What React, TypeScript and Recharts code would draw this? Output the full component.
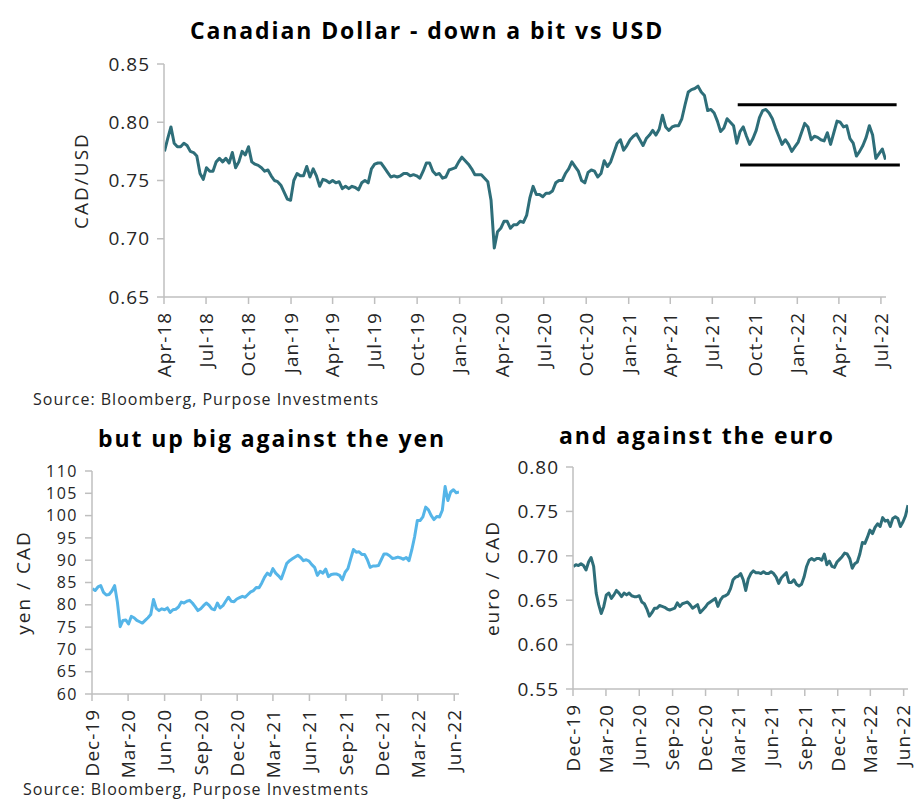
import { LineChart, Line, XAxis, YAxis, ReferenceLine } from 'recharts'

const FONT = "'Open Sans', sans-serif"
const TEAL = '#2e6e79'
const SKY = '#55b5e8'
const AXIS = '#bfbfbf'
const INK = '#262626'
const DAY = 864e5
const MONTHS = ['Jan', 'Feb', 'Mar', 'Apr', 'May', 'Jun', 'Jul', 'Aug', 'Sep', 'Oct', 'Nov', 'Dec']

// CAD/USD, weekly closes starting 2 Apr 2018
const cadStart = '2018-04-02'
const cadUsd = [
  0.775, 0.786, 0.796, 0.782, 0.779, 0.779, 0.782, 0.780, 0.775, 0.774,
  0.771, 0.756, 0.751, 0.761, 0.758, 0.758, 0.766, 0.769, 0.766, 0.769,
  0.765, 0.774, 0.761, 0.766, 0.775, 0.772, 0.779, 0.766, 0.764, 0.763,
  0.761, 0.758, 0.759, 0.754, 0.750, 0.749, 0.746, 0.740, 0.734, 0.733,
  0.750, 0.756, 0.754, 0.754, 0.762, 0.753, 0.760, 0.754, 0.745, 0.751,
  0.750, 0.748, 0.750, 0.748, 0.749, 0.743, 0.745, 0.743, 0.745, 0.744,
  0.742, 0.748, 0.750, 0.748, 0.760, 0.764, 0.765, 0.765, 0.761, 0.757,
  0.753, 0.754, 0.753, 0.754, 0.756, 0.756, 0.754, 0.755, 0.754, 0.752,
  0.758, 0.765, 0.765, 0.758, 0.755, 0.756, 0.752, 0.753, 0.759, 0.760,
  0.761, 0.766, 0.770, 0.767, 0.764, 0.760, 0.755, 0.755, 0.755, 0.752,
  0.749, 0.733, 0.692, 0.706, 0.709, 0.715, 0.715, 0.709, 0.712, 0.712,
  0.715, 0.714, 0.720, 0.735, 0.745, 0.738, 0.738, 0.736, 0.739, 0.739,
  0.741, 0.748, 0.750, 0.750, 0.756, 0.760, 0.766, 0.762, 0.758, 0.750,
  0.748, 0.757, 0.759, 0.758, 0.753, 0.756, 0.767, 0.762, 0.766, 0.774,
  0.782, 0.785, 0.776, 0.780, 0.785, 0.788, 0.790, 0.785, 0.780, 0.786,
  0.789, 0.793, 0.789, 0.794, 0.806, 0.796, 0.793, 0.796, 0.797, 0.797,
  0.803, 0.815, 0.826, 0.828, 0.829, 0.831, 0.826, 0.823, 0.810, 0.811,
  0.808, 0.801, 0.792, 0.795, 0.803, 0.800, 0.797, 0.782, 0.792, 0.796,
  0.788, 0.781, 0.786, 0.793, 0.804, 0.810, 0.811, 0.808, 0.803, 0.795,
  0.788, 0.781, 0.785, 0.781, 0.775, 0.779, 0.783, 0.791, 0.799, 0.796,
  0.785, 0.788, 0.787, 0.785, 0.784, 0.791, 0.781, 0.791, 0.801, 0.800,
  0.796, 0.797, 0.786, 0.782, 0.771, 0.775, 0.780, 0.787, 0.797, 0.789,
  0.769, 0.773, 0.777, 0.768,
]
const cadDomain = ['2018-04-01', '2022-07-12']
const cadTicks = [
  '2018-04-01', '2018-07-01', '2018-10-01', '2019-01-01', '2019-04-01', '2019-07-01',
  '2019-10-01', '2020-01-01', '2020-04-01', '2020-07-01', '2020-10-01', '2021-01-01',
  '2021-04-01', '2021-07-01', '2021-10-01', '2022-01-01', '2022-04-01', '2022-07-01',
]
const cadYTicks = [0.65, 0.7, 0.75, 0.8, 0.85]
// trading range drawn over the last year
const cadRange = [
  { from: '2021-08-25', to: '2022-08-04', level: 0.815 },
  { from: '2021-08-30', to: '2022-08-11', level: 0.7633 },
]

// crosses, weekly closes starting 2 Dec 2019
const crossStart = '2019-12-02'
const jpyPerCad = [
  83.6, 83.2, 84.0, 84.3, 82.8, 82.2, 82.3, 83.1, 84.3, 80.6,
  75.1, 76.5, 76.6, 75.7, 77.4, 77.1, 76.5, 76.2, 75.9, 76.5,
  77.1, 77.8, 81.2, 79.2, 78.7, 79.1, 78.9, 79.3, 78.3, 78.9,
  79.0, 79.5, 80.6, 80.4, 80.8, 81.0, 80.4, 79.6, 78.7, 79.1,
  79.8, 80.4, 79.9, 79.1, 78.9, 80.4, 79.3, 79.8, 80.8, 81.7,
  80.8, 80.7, 81.3, 81.6, 81.9, 81.7, 82.3, 82.9, 83.2, 83.9,
  83.8, 84.9, 86.2, 87.1, 86.6, 88.1, 87.1, 86.5, 85.8, 87.5,
  89.3, 89.9, 90.3, 90.7, 91.1, 90.6, 89.9, 90.1, 89.8, 89.0,
  88.4, 86.6, 87.5, 87.1, 88.0, 86.3, 86.8, 86.9, 86.9, 86.6,
  85.6, 87.3, 88.1, 90.3, 92.4, 91.8, 91.9, 91.3, 91.3, 90.1,
  88.4, 88.7, 88.7, 88.8, 90.1, 91.4, 91.4, 91.0, 90.4, 90.5,
  90.7, 90.5, 90.2, 90.6, 89.9, 92.3, 95.2, 98.9, 98.9, 99.7,
  101.9, 101.3, 100.0, 99.1, 99.8, 99.7, 101.2, 106.5, 103.4, 105.3,
  105.8, 105.1, 105.3,
]
const eurPerCad = [
  0.688, 0.690, 0.689, 0.691, 0.689, 0.684, 0.693, 0.698, 0.688, 0.658,
  0.645, 0.635, 0.643, 0.656, 0.658, 0.652, 0.656, 0.661, 0.658, 0.654,
  0.658, 0.656, 0.658, 0.655, 0.654, 0.654, 0.655, 0.648, 0.646, 0.640,
  0.632, 0.636, 0.641, 0.641, 0.644, 0.643, 0.642, 0.640, 0.639, 0.640,
  0.641, 0.647, 0.643, 0.646, 0.647, 0.648, 0.645, 0.641, 0.643, 0.645,
  0.636, 0.639, 0.642, 0.646, 0.648, 0.650, 0.652, 0.643, 0.650, 0.654,
  0.655, 0.657, 0.663, 0.673, 0.676, 0.677, 0.680, 0.673, 0.661, 0.674,
  0.680, 0.683, 0.681, 0.681, 0.680, 0.682, 0.680, 0.680, 0.682, 0.680,
  0.676, 0.669, 0.675, 0.678, 0.681, 0.670, 0.670, 0.673, 0.668, 0.666,
  0.668, 0.676, 0.688, 0.695, 0.697, 0.695, 0.697, 0.697, 0.695, 0.702,
  0.690, 0.694, 0.688, 0.687, 0.693, 0.696, 0.699, 0.703, 0.702, 0.697,
  0.686, 0.691, 0.693, 0.702, 0.715, 0.714, 0.721, 0.729, 0.725, 0.732,
  0.736, 0.733, 0.743, 0.739, 0.740, 0.733, 0.742, 0.744, 0.742, 0.733,
  0.738, 0.745, 0.757,
]
const crossDomain = ['2019-12-01', '2022-06-13']
const crossTicks = [
  '2019-12-01', '2020-03-01', '2020-06-01', '2020-09-01', '2020-12-01', '2021-03-01',
  '2021-06-01', '2021-09-01', '2021-12-01', '2022-03-01', '2022-06-01',
]
const jpyYTicks = [60, 65, 70, 75, 80, 85, 90, 95, 100, 105, 110]
const eurYTicks = [0.55, 0.6, 0.65, 0.7, 0.75, 0.8]

const ms = (s: string) => Date.parse(s + 'T00:00:00Z')
const weekly = (start: string, values: number[]) =>
  values.map((v, i) => ({ t: ms(start) + i * 7 * DAY, v }))
const monthLabel = (t: number) => {
  const d = new Date(t)
  return `${MONTHS[d.getUTCMonth()]}-${String(d.getUTCFullYear()).slice(2)}`
}

function DateTick(props: any) {
  const { x, y, payload } = props
  return (
    <g transform={`translate(${x},${y})`}>
      <text transform="rotate(-90)" textAnchor="end" dy="0.36em" fontSize={19} fontFamily={FONT} fill={INK} letterSpacing={1}>
        {monthLabel(payload.value)}
      </text>
    </g>
  )
}

function AxisTitle(props: any) {
  const { viewBox, text, cx } = props
  const cy = viewBox.y + viewBox.height / 2
  return (
    <text
      x={cx}
      y={cy}
      transform={`rotate(-90, ${cx}, ${cy})`}
      textAnchor="middle"
      dominantBaseline="central"
      fontSize={19}
      fontFamily={FONT}
      fill={INK}
      letterSpacing={2}
    >
      {text}
    </text>
  )
}

interface RateChartProps {
  left: number
  top: number
  width: number
  height: number
  margin: { top: number; right: number; bottom: number; left: number }
  yWidth: number
  data: { t: number; v: number }[]
  domain: string[]
  xTicks: string[]
  yDomain: [number, number]
  yTicks: number[]
  yFormat: (v: number) => string
  yFont?: number
  yTitle: string
  yTitleX: number
  color: string
  children?: React.ReactNode
}

function RateChart(p: RateChartProps) {
  const yFont = p.yFont ?? 19
  return (
    <div style={{ position: 'absolute', left: p.left, top: p.top }}>
      <LineChart width={p.width} height={p.height} data={p.data} margin={p.margin}>
        <XAxis
          dataKey="t"
          type="number"
          domain={p.domain.map(ms)}
          allowDataOverflow
          ticks={p.xTicks.map(ms)}
          interval={0}
          tick={<DateTick />}
          tickSize={7}
          tickMargin={8}
          height={90}
          axisLine={{ stroke: AXIS, strokeWidth: 1.5 }}
          tickLine={{ stroke: AXIS, strokeWidth: 1.5 }}
        />
        <YAxis
          type="number"
          domain={p.yDomain}
          ticks={p.yTicks}
          interval={0}
          tickFormatter={p.yFormat}
          tick={{ fontSize: yFont, fill: INK, fontFamily: FONT, letterSpacing: yFont < 19 ? 1.5 : 1 }}
          tickSize={7}
          tickMargin={7}
          width={p.yWidth}
          axisLine={{ stroke: AXIS, strokeWidth: 1.5 }}
          tickLine={{ stroke: AXIS, strokeWidth: 1.5 }}
          label={<AxisTitle text={p.yTitle} cx={p.yTitleX} />}
        />
        <Line
          type="linear"
          dataKey="v"
          stroke={p.color}
          strokeWidth={3}
          strokeLinejoin="round"
          dot={false}
          activeDot={false}
          isAnimationActive={false}
        />
        {p.children}
      </LineChart>
    </div>
  )
}

const titleStyle = (cx: number, top: number): React.CSSProperties => ({
  position: 'absolute',
  left: cx - 300,
  top,
  width: 600,
  textAlign: 'center',
  fontFamily: FONT,
  fontWeight: 700,
  fontSize: 23,
  letterSpacing: 1.9,
  color: '#000',
  whiteSpace: 'nowrap',
})

const sourceStyle = (left: number, top: number): React.CSSProperties => ({
  position: 'absolute',
  left,
  top,
  fontFamily: FONT,
  fontSize: 16,
  letterSpacing: 1,
  color: INK,
  whiteSpace: 'nowrap',
})

export default function App() {
  const two = (v: number) => v.toFixed(2)
  return (
    <div style={{ position: 'absolute', left: 0, top: 0, width: 923, height: 810, background: '#fff', overflow: 'hidden' }}>
      <RateChart
        left={0}
        top={0}
        width={923}
        height={410}
        margin={{ top: 64, right: 37, bottom: 23, left: 0 }}
        yWidth={164}
        data={weekly(cadStart, cadUsd)}
        domain={cadDomain}
        xTicks={cadTicks}
        yDomain={[0.65, 0.85]}
        yTicks={cadYTicks}
        yFormat={two}
        yTitle="CAD/USD"
        yTitleX={81}
        color={TEAL}
      >
        {cadRange.map((r) => (
          <ReferenceLine
            key={r.level}
            segment={[{ x: ms(r.from), y: r.level }, { x: ms(r.to), y: r.level }]}
            stroke="#000"
            strokeWidth={3}
            ifOverflow="visible"
          />
        ))}
      </RateChart>

      <RateChart
        left={0}
        top={400}
        width={470}
        height={410}
        margin={{ top: 71, right: 11, bottom: 26, left: 0 }}
        yWidth={92}
        data={weekly(crossStart, jpyPerCad)}
        domain={crossDomain}
        xTicks={crossTicks}
        yDomain={[60, 110]}
        yTicks={jpyYTicks}
        yFormat={(v) => String(v)}
        yFont={16}
        yTitle="yen / CAD"
        yTitleX={23}
        color={SKY}
      />

      <RateChart
        left={470}
        top={400}
        width={453}
        height={410}
        margin={{ top: 67, right: 15, bottom: 31, left: 0 }}
        yWidth={103}
        data={weekly(crossStart, eurPerCad)}
        domain={crossDomain}
        xTicks={crossTicks}
        yDomain={[0.55, 0.8]}
        yTicks={eurYTicks}
        yFormat={two}
        yTitle="euro / CAD"
        yTitleX={22}
        color={TEAL}
      />

      <div style={titleStyle(427, 14)}>Canadian Dollar - down a bit vs USD</div>
      <div style={titleStyle(272, 422)}>but up big against the yen</div>
      <div style={titleStyle(697, 419)}>and against the euro</div>
      <div style={sourceStyle(33, 388)}>Source: Bloomberg, Purpose Investments</div>
      <div style={sourceStyle(23, 778)}>Source: Bloomberg, Purpose Investments</div>
    </div>
  )
}
